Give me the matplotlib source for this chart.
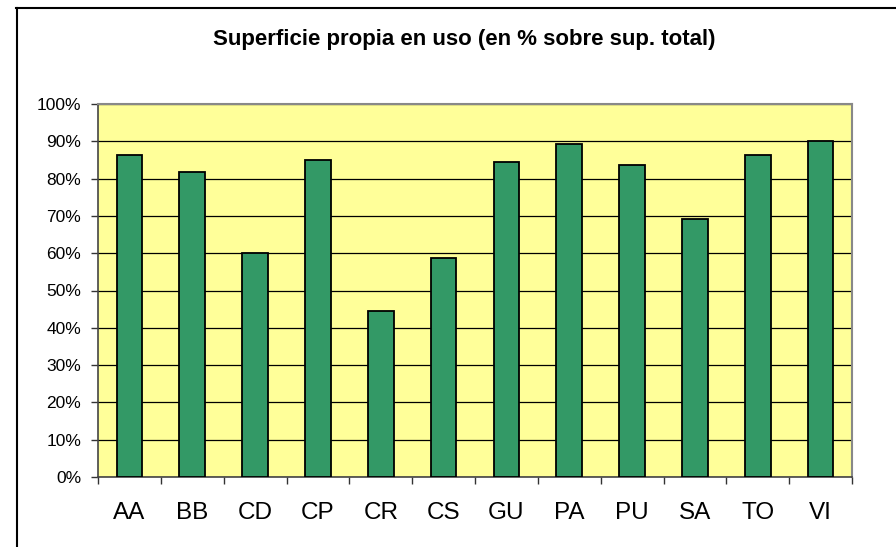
import numpy as np
import matplotlib
matplotlib.use("Agg")
import matplotlib.pyplot as plt
from matplotlib.ticker import FixedLocator, PercentFormatter

# data
categories = ["AA", "BB", "CD", "CP", "CR", "CS", "GU", "PA", "PU", "SA", "TO", "VI"]
values = [86.3, 81.8, 60.0, 85.0, 44.5, 58.6, 84.5, 89.3, 83.6, 69.1, 86.3, 90.2]
yticks = list(range(0, 101, 10))
title = "Superficie propia en uso (en % sobre sup. total)"

plt.rcParams['font.family'] = ['Liberation Sans', 'DejaVu Sans']

fig = plt.figure(figsize=(8.96, 5.47), dpi=100)
ax = fig.add_axes([98 / 896, 70 / 547, 754 / 896, 373 / 547])
ax.set_facecolor("#FFFF99")

x = np.arange(len(categories))
ax.bar(x, values, width=0.41, color="#339966", edgecolor="black",
       linewidth=1.3, zorder=3)

ax.set_xlim(-0.5, len(categories) - 0.5)
ax.set_ylim(0, 100)
ax.set_yticks(yticks)
ax.yaxis.set_major_formatter(PercentFormatter(decimals=0))
ax.grid(axis="y", color="black", linewidth=0.9, zorder=1)

ax.set_xticks(x)
ax.set_xticklabels(categories, fontsize=17.5)
ax.xaxis.set_minor_locator(FixedLocator(np.arange(-0.5, len(categories), 1)))
ax.tick_params(axis="x", which="major", length=0, pad=18)
ax.tick_params(axis="x", which="minor", length=5, width=1, color="#333333")
ax.tick_params(axis="y", length=5, width=1, color="#333333", labelsize=12.5, pad=7)

for side in ["left", "bottom"]:
    ax.spines[side].set_color("#444444")
    ax.spines[side].set_linewidth(1.2)
for side in ["top", "right"]:
    ax.spines[side].set_color("#888888")
    ax.spines[side].set_linewidth(1.5)

fig.text(464 / 896, 1 - 40 / 547, title, ha="center", va="center",
         fontsize=16, fontweight="bold")

# chart frame (only top and left edges visible in the crop)
fig.add_artist(plt.Line2D([16 / 896, 1], [1 - 7.5 / 547, 1 - 7.5 / 547],
                          color="black", linewidth=1.5, transform=fig.transFigure))
fig.add_artist(plt.Line2D([16.5 / 896, 16.5 / 896], [0, 1 - 7.5 / 547],
                          color="black", linewidth=1.5, transform=fig.transFigure))

fig.savefig("out.png", dpi=100)
